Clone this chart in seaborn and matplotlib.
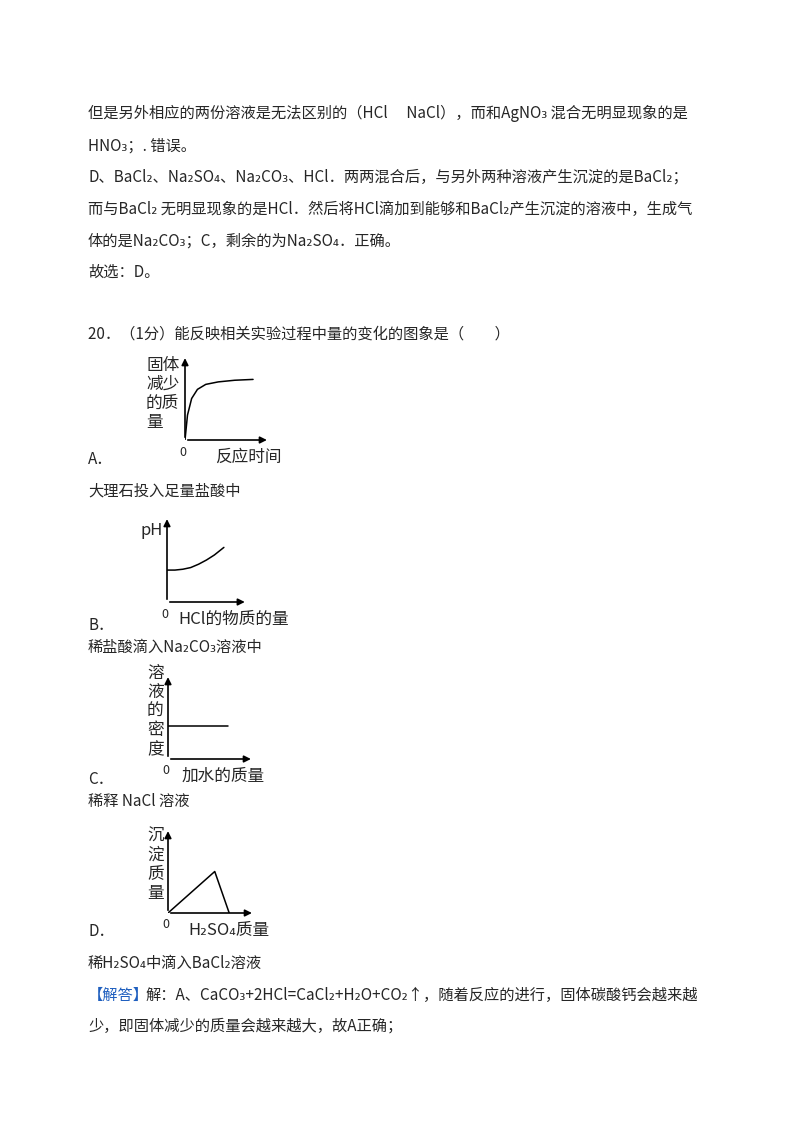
import matplotlib
matplotlib.use('Agg')
import matplotlib.pyplot as plt
import seaborn as sns

sns.set_style('white')
plt.rcParams['font.family'] = ['Noto Sans CJK SC', 'DejaVu Sans']

W, H = 800, 1132

# 正文文字 (y 像素位置, x 像素位置, 文本)
body_lines = [
    (113, 88, '但是另外相应的两份溶液是无法区别的（HCl　 NaCl），而和AgNO₃ 混合无明显现象的是'),
    (146, 88, 'HNO₃；. 错误。'),
    (177, 88, 'D、BaCl₂、Na₂SO₄、Na₂CO₃、HCl．两两混合后，与另外两种溶液产生沉淀的是BaCl₂；'),
    (209, 88, '而与BaCl₂ 无明显现象的是HCl．然后将HCl滴加到能够和BaCl₂产生沉淀的溶液中，生成气'),
    (241, 88, '体的是Na₂CO₃；C，剩余的为Na₂SO₄．正确。'),
    (272, 88, '故选：D。'),
    (334, 88, '20．（1分）能反映相关实验过程中量的变化的图象是（　　）'),
    (460, 88, 'A．'),
    (491, 88, '大理石投入足量盐酸中'),
    (626, 88, 'B．'),
    (647, 88, '稀盐酸滴入Na₂CO₃溶液中'),
    (779, 88, 'C．'),
    (801, 88, '稀释 NaCl 溶液'),
    (932, 88, 'D．'),
    (963, 88, '稀H₂SO₄中滴入BaCl₂溶液'),
    (1026, 88, '少，即固体减少的质量会越来越大，故A正确；'),
]

# 四个小图的曲线数据 (坐标轴内 0~1)
a_x = [0, 0.03, 0.08, 0.15, 0.25, 0.4, 0.6, 0.82]
a_y = [0, 0.3, 0.5, 0.61, 0.67, 0.7, 0.72, 0.73]
b_x = [0, 0.1, 0.2, 0.3, 0.4, 0.5, 0.6, 0.72]
b_y = [0.38, 0.38, 0.39, 0.41, 0.45, 0.5, 0.56, 0.65]
c_x = [0, 0.72]
c_y = [0.4, 0.4]
d_x = [0, 0.55, 0.72]
d_y = [0, 0.5, 0]

charts = [
    # 左, 上, 右, 下 (像素), x数据, y数据, y轴标题, x轴标题, 标题位置
    (185, 357, 268, 440, a_x, a_y, '固体\n减少\n的质\n量', '反应时间', 146, 357, 215),
    (167, 518, 246, 602, b_x, b_y, 'pH', 'HCl的物质的量', 140, 522, 178),
    (168, 676, 252, 759, c_x, c_y, '溶\n液\n的\n密\n度', '加水的质量', 147, 665, 182),
    (168, 830, 253, 913, d_x, d_y, '沉\n淀\n质\n量', 'H₂SO₄质量', 147, 828, 188),
]

fig = plt.figure(figsize=(W / 100, H / 100), dpi=100)
for y, x, s in body_lines:
    fig.text(x / W, 1 - y / H, s, fontsize=11, va='center', ha='left')

# 【解答】行
fig.text(88 / W, 1 - 995 / H, '【解答】', fontsize=11, va='center', color='#1f5fbf')
fig.text(146 / W, 1 - 995 / H, '解：A、CaCO₃+2HCl=CaCl₂+H₂O+CO₂↑，随着反应的进行，固体碳酸钙会越来越',
         fontsize=11, va='center')

for l, t, r, b, xs, ys, ylab, xlab, ylx, yly, xlx in charts:
    ax = fig.add_axes([l / W, 1 - b / H, (r - l) / W, (b - t) / H])
    sns.lineplot(x=xs, y=ys, ax=ax, color='black', linewidth=1.1)
    ax.set_xlim(0, 1)
    ax.set_ylim(0, 1)
    for sp in ax.spines.values():
        sp.set_visible(False)
    ax.set_xticks([])
    ax.set_yticks([])
    ax.annotate('', xy=(0, 1.02), xytext=(0, 0), xycoords='axes fraction',
                arrowprops=dict(arrowstyle='-|>', color='black', lw=1.2, mutation_scale=10))
    ax.annotate('', xy=(1.02, 0), xytext=(0, 0), xycoords='axes fraction',
                arrowprops=dict(arrowstyle='-|>', color='black', lw=1.2, mutation_scale=10))
    fig.text(ylx / W, 1 - yly / H, ylab, fontsize=12, va='top', ha='left', linespacing=1.15)
    fig.text((l - 2) / W, 1 - (b + 12) / H, '0', fontsize=9, ha='center', va='center')
    fig.text(xlx / W, 1 - (b + 17) / H, xlab, fontsize=12, ha='left', va='center')

fig.savefig('out.png', dpi=100)
